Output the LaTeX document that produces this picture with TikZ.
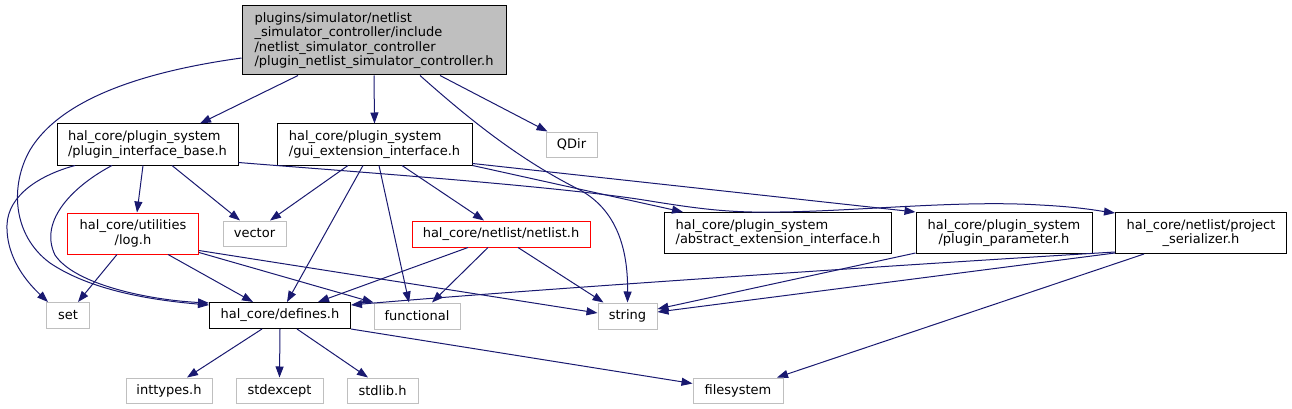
\documentclass[tikz,border=0pt]{standalone}
\usepackage{fontspec}
\setmainfont{DejaVu Sans}
\usetikzlibrary{arrows.meta}
\definecolor{dxedge}{RGB}{25,25,112}
\definecolor{dxgray}{RGB}{191,191,191}
\definecolor{dxred}{RGB}{255,0,0}

\begin{document}
\begin{tikzpicture}[x=1pt,y=-1pt,
  font=\fontsize{13}{14.5}\selectfont,
  every node/.style={inner sep=0pt},
  hdr/.style={draw=black, line width=1pt, fill=white},
  sysh/.style={draw=dxgray, line width=1pt, fill=white},
  trunc/.style={draw=dxred, line width=1pt, fill=white},
  dep/.style={draw=dxedge, line width=1pt, -{Triangle[length=11pt,width=8pt]}}]
\useasboundingbox (0,0) rectangle (1292,409);

% Main header
\node[hdr, fill=dxgray, minimum width=264pt, minimum height=69pt, align=left] (main) at (374,40.5)
  {plugins/simulator/netlist\\\_simulator\_controller/include\\/netlist\_simulator\_controller\\/plugin\_netlist\_simulator\_controller.h};

% First level
\node[hdr, minimum width=181pt, minimum height=41pt, align=left] (pib) at (147.5,144.5) {hal\_core/plugin\_system\\/plugin\_interface\_base.h};
\node[hdr, minimum width=195pt, minimum height=41pt, align=left] (gei) at (374.5,144.5) {hal\_core/plugin\_system\\/gui\_extension\_interface.h};
\node[sysh, minimum width=51pt, minimum height=25pt] (qdir) at (571.5,144.5) {QDir};

% Second level
\node[trunc, minimum width=131pt, minimum height=41pt, align=center] (log) at (133,233.5) {hal\_core/utilities\\/log.h};
\node[sysh, minimum width=63pt, minimum height=25pt] (vector) at (254.5,233.5) {vector};
\node[trunc, minimum width=178pt, minimum height=26pt] (netlist) at (501,234) {hal\_core/netlist/netlist.h};
\node[hdr, minimum width=227pt, minimum height=41pt, align=left] (aei) at (778,233) {hal\_core/plugin\_system\\/abstract\_extension\_interface.h};
\node[hdr, minimum width=176pt, minimum height=41pt, align=center] (pp) at (1004,233) {hal\_core/plugin\_system\\/plugin\_parameter.h};
\node[hdr, minimum width=171pt, minimum height=41pt, align=center] (ps) at (1201,233) {hal\_core/netlist/project\\\_serializer.h};

% Third level
\node[sysh, minimum width=43pt, minimum height=26pt] (set) at (68,315.5) {set};
\node[hdr, minimum width=141pt, minimum height=26pt] (defines) at (280,315.5) {hal\_core/defines.h};
\node[sysh, minimum width=86pt, minimum height=26pt] (functional) at (417,316) {functional};
\node[sysh, minimum width=59pt, minimum height=26pt] (string) at (627.5,316) {string};

% Bottom level
\node[sysh, minimum width=86pt, minimum height=25pt] (inttypes) at (169,390.5) {inttypes.h};
\node[sysh, minimum width=87pt, minimum height=25pt] (stdexcept) at (279.5,390.5) {stdexcept};
\node[sysh, minimum width=71pt, minimum height=25pt] (stdlib) at (382.5,390.5) {stdlib.h};
\node[sysh, minimum width=90pt, minimum height=25pt] (filesystem) at (738,390.5) {filesystem};

% Includes of the main header
\draw[dep] ([xshift=-76pt]main.south) -- ([xshift=52.5pt]pib.north);
\draw[dep] (main.south) -- (gei.north);
\draw[dep] ([xshift=66pt]main.south) -- ([xshift=-24pt]qdir.north);
\draw[dep] ([xshift=46pt]main.south) .. controls (470,120) and (520,160) .. (580,190)
  .. controls (620,212) and (628,255) .. (string.north);
\draw[dep] ([yshift=-17.5pt]main.west) .. controls (140,72) and (60,100) .. (30,150)
  .. controls (10,185) and (12,235) .. (50,263)
  .. controls (90,290) and (150,300) .. ([yshift=-3pt]defines.north west);

% plugin_interface_base.h
\draw[dep] ([xshift=-72.5pt]pib.south) .. controls (40,175) and (8,195) .. (7,225)
  .. controls (6,260) and (30,285) .. ([xshift=-20pt]set.north);
\draw[dep] ([xshift=-35.5pt]pib.south) .. controls (75,185) and (38,220) .. (55,255)
  .. controls (75,285) and (150,300) .. ([yshift=-1pt]defines.north west);
\draw[dep] ([xshift=-4.5pt]pib.south) -- ([xshift=4pt]log.north);
\draw[dep] ([xshift=24.5pt]pib.south) -- ([xshift=-14.5pt]vector.north);
\draw[dep] ([yshift=3pt]pib.south east) .. controls (330,170) and (560,186) .. (650,201)
  .. controls (700,209) and (730,213) .. (780,212)
  .. controls (860,211) and (960,200) .. (1040,205)
  .. controls (1080,207) and (1100,211) .. ([yshift=-1pt]ps.north west);

% gui_extension_interface.h
\draw[dep] ([xshift=-26.5pt]gei.south) -- ([xshift=15.5pt]vector.north);
\draw[dep] ([xshift=-11.5pt]gei.south) -- ([xshift=7pt]defines.north);
\draw[dep] ([xshift=4.5pt]gei.south) -- ([xshift=-8pt]functional.north);
\draw[dep] ([xshift=27.5pt]gei.south) -- ([xshift=-17pt]netlist.north);
\draw[dep] (gei.south east) -- ([xshift=-95pt]aei.north);
\draw[dep] ([yshift=2pt]gei.south east) -- (pp.north west);

% log.h and netlist.h
\draw[dep] ([xshift=-16pt]log.south) -- ([xshift=10pt]set.north);
\draw[dep] ([xshift=35pt]log.south) -- ([xshift=-27pt]defines.north);
\draw[dep] ([yshift=2pt]log.south east) -- (functional.north west);
\draw[dep] ([yshift=4pt]log.south east) -- ([yshift=3pt]string.west);
\draw[dep] ([xshift=-33pt]netlist.south) -- ([xshift=38pt]defines.north);
\draw[dep] ([xshift=-13pt]netlist.south) -- ([xshift=15pt]functional.north);
\draw[dep] ([xshift=17pt]netlist.south) -- ([xshift=-24pt]string.north);

% plugin_parameter.h and project_serializer.h
\draw[dep] ([yshift=1pt]pp.south west) -- ([yshift=7pt]string.east);
\draw[dep] ([yshift=1pt]ps.south west) -- ([yshift=4pt]string.east);
\draw[dep] ([yshift=2pt]ps.south west) .. controls (850,268) and (500,292) .. ([yshift=-3pt]defines.north east);
\draw[dep] ([xshift=-57pt]ps.south) -- ([xshift=39pt]filesystem.north);

% defines.h
\draw[dep] ([xshift=-18pt]defines.south) -- ([xshift=18pt]inttypes.north);
\draw[dep] (defines.south) -- (stdexcept.north);
\draw[dep] ([xshift=17pt]defines.south) -- ([xshift=-14.5pt]stdlib.north);
\draw[dep] (defines.south east) -- ([yshift=7pt]filesystem.west);
\end{tikzpicture}
\end{document}
